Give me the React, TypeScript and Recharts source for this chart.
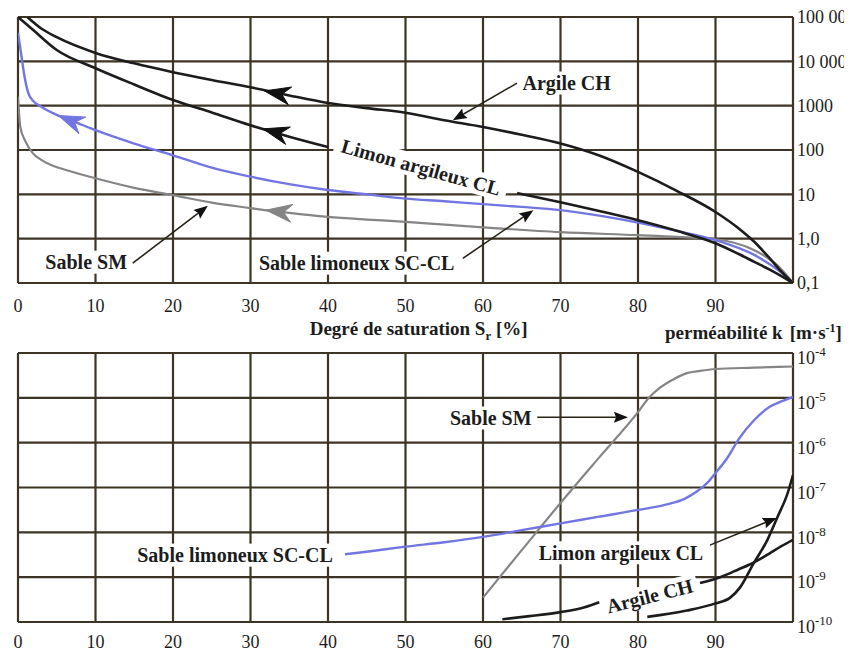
import React from 'react';
import { LineChart, Line, XAxis, YAxis, CartesianGrid, ReferenceLine, ReferenceDot } from 'recharts';

const FONT = 'Liberation Serif, DejaVu Serif, Tinos, Times New Roman, serif';
const GRID = '#3d3424';
const INK = '#1c1c1c';
const BLUE = '#7276e2';
const GREY = '#858585';
const TICK_FS = 18;
const LABEL_FS = 20;

// ---- axes ----
const satTicks = [0, 10, 20, 30, 40, 50, 60, 70, 80, 90, 100];
const suctionTicks = [0.1, 1, 10, 100, 1000, 10000, 100000];
const suctionLabels = ['0,1', '1,0', '10', '100', '1000', '10 000', '100 000'];
const permTicks = [1e-10, 1e-9, 1e-8, 1e-7, 1e-6, 1e-5, 1e-4];
const permExponents = ['-10', '-9', '-8', '-7', '-6', '-5', '-4'];

// ---- top panel: suction vs degree of saturation ----
const srArgileTop = [1.2, 3, 5, 10, 15, 20, 25, 30, 35, 40, 45, 50, 55, 60, 65, 70, 75, 80, 85, 90, 93, 95, 97, 98.5, 100];
const suArgileTop = [100000, 55000, 35000, 15500, 9000, 5700, 3800, 2600, 1700, 1150, 880, 690, 470, 330, 220, 140, 75, 32, 12, 4, 1.7, 0.85, 0.36, 0.18, 0.1];

const srLimonTop = [0, 2, 5, 10, 15, 20, 25, 30, 35, 40, 50, 64.4, 70, 75, 80, 85, 90, 93, 95, 97, 100];
const suLimonTop = [100000, 50000, 18000, 7000, 3000, 1340, 700, 360, 200, 117, null, 10.7, 6.6, 4.2, 2.6, 1.5, 0.79, 0.45, 0.3, 0.2, 0.1];

const srScclTop = [0, 0.4, 0.8, 1.3, 2, 3, 5, 7.5, 10, 15, 20, 25, 30, 35, 40, 45, 50, 55, 60, 65, 70, 75, 80, 85, 90, 95, 98, 100];
const suScclTop = [44000, 15000, 5000, 2000, 1250, 950, 620, 420, 280, 140, 76, 40, 25, 17, 12.5, 10, 8, 7, 6, 5.2, 4.4, 3.3, 2.3, 1.5, 0.93, 0.43, 0.2, 0.1];

const srSmTop = [0, 0.3, 0.9, 1.9, 3, 4.5, 6.3, 10, 15, 20, 25, 30, 35, 40, 45, 50, 60, 70, 80, 85, 90, 95, 98, 100];
const suSmTop = [1600, 330, 165, 85, 60, 44, 35, 23, 14, 9.6, 6.5, 4.9, 3.8, 3.1, 2.7, 2.4, 1.8, 1.4, 1.2, 1.1, 0.97, 0.55, 0.25, 0.1];

// ---- bottom panel: permeability vs degree of saturation ----
const srSmBot = [60, 65, 70, 75, 80, 81.4, 82.8, 84.6, 86.3, 88, 90, 95, 100];
const kSmBot = [3.5e-10, 4e-9, 4.5e-8, 4.7e-7, 4.8e-6, 1e-5, 1.66e-5, 2.6e-5, 3.55e-5, 4e-5, 4.4e-5, 4.7e-5, 5e-5];

const srScclBot = [42.2, 45, 50, 55, 60, 65, 70, 75, 80, 84, 86, 87.5, 89, 90, 91.5, 93, 95, 97, 98.5, 100];
const kScclBot = [3.24e-9, 3.7e-9, 4.8e-9, 6e-9, 7.9e-9, 1.12e-8, 1.58e-8, 2.24e-8, 3.16e-8, 4.3e-8, 5.6e-8, 7.9e-8, 1.3e-7, 2.1e-7, 4.5e-7, 1.2e-6, 3.2e-6, 6.3e-6, 8.3e-6, 1.05e-5];

const srLimonBot = [81.2, 86.3, 90, 91.9, 93.2, 94.9, 96.7, 98, 99.3, 100];
const kLimonBot = [1.3e-10, 1.8e-10, 2.6e-10, 3.5e-10, 6e-10, 2e-9, 6.8e-9, 2.2e-8, 7.4e-8, 1.9e-7];

const srArgileBot = [62.5, 66, 70, 73, 75, 80, 88, 90.6, 93, 94.9, 97, 98.5, 100];
const kArgileBot = [1.15e-10, 1.35e-10, 1.66e-10, 2.1e-10, 2.75e-10, null, 7.4e-10, 1e-9, 1.5e-9, 2.1e-9, 3.4e-9, 4.9e-9, 6.8e-9];

const pts = (xs: number[], ys: (number | null)[]) => xs.map((x, i) => ({ x, y: ys[i] }));

// ---- drawing helpers ----
function headPath(x1: number, y1: number, x2: number, y2: number, len: number, half: number, notch: number) {
  const dx = x2 - x1;
  const dy = y2 - y1;
  const d = Math.hypot(dx, dy) || 1;
  const ux = dx / d;
  const uy = dy / d;
  const px = -uy;
  const py = ux;
  const bx = x2 - ux * len;
  const by = y2 - uy * len;
  const nx = x2 - ux * len * notch;
  const ny = y2 - uy * len * notch;
  return `M${x2},${y2} L${bx + px * half},${by + py * half} L${nx},${ny} L${bx - px * half},${by - py * half} Z`;
}

const curveHead = (color: string) => (p: any) => (
  <path d={headPath(p.x1, p.y1, p.x2, p.y2, 26, 9, 0.68)} fill={color} stroke={color} strokeWidth={1} />
);

const pointer = (p: any) => {
  const dx = p.x2 - p.x1;
  const dy = p.y2 - p.y1;
  const d = Math.hypot(dx, dy) || 1;
  const ex = p.x2 - (dx / d) * 8;
  const ey = p.y2 - (dy / d) * 8;
  return (
    <g>
      <line x1={p.x1} y1={p.y1} x2={ex} y2={ey} stroke="#2a2418" strokeWidth={1.6} />
      <path d={headPath(p.x1, p.y1, p.x2, p.y2, 14, 5.5, 0.85)} fill="#111" />
    </g>
  );
};

const tag = (text: string, angle = 0) => (p: any) => {
  const w = text.length * LABEL_FS * 0.5;
  const h = 23;
  return (
    <g transform={`rotate(${angle} ${p.cx} ${p.cy})`}>
      <rect x={p.cx - w / 2 - 4} y={p.cy - h / 2} width={w + 8} height={h} fill="#ffffff" />
      <text x={p.cx} y={p.cy} dy="0.35em" textAnchor="middle" style={{ fontFamily: FONT }} fontWeight="bold" fontSize={LABEL_FS} fill={INK}>
        {text}
      </text>
    </g>
  );
};

const xTitle = (p: any) => (
  <text x={p.cx} y={p.cy + 52} textAnchor="middle" style={{ fontFamily: FONT }} fontWeight="bold" fontSize={19} fill={INK}>
    Degré de saturation S
    <tspan dy={5} fontSize={13}>r</tspan>
    <tspan dy={-5}> [%]</tspan>
  </text>
);

const kTitle = (p: any) => (
  <text x={p.cx - 128} y={p.cy - 14} textAnchor="start" style={{ fontFamily: FONT }} fontWeight="bold" fontSize={19} fill={INK}>
    perméabilité k
    <tspan dx={7}>[m·s</tspan>
    <tspan dy={-7} fontSize={12}>-1</tspan>
    <tspan dy={7}>]</tspan>
  </text>
);

const XTick = (p: any) => {
  const v = p.payload.value;
  if (v === 100) return <g />;
  return (
    <text x={p.x} y={p.y} dy="0.35em" textAnchor="middle" style={{ fontFamily: FONT }} fontSize={TICK_FS} fill={INK}>
      {v}
    </text>
  );
};

const SuctionTick = (p: any) => {
  const i = suctionTicks.indexOf(p.payload.value);
  return (
    <text x={p.x} y={p.y} dy="0.35em" textAnchor="start" style={{ fontFamily: FONT }} fontSize={TICK_FS} fill={INK}>
      {i >= 0 ? suctionLabels[i] : ''}
    </text>
  );
};

const PermTick = (p: any) => {
  const i = permTicks.findIndex((t) => Math.abs(Math.log10(t) - Math.log10(p.payload.value)) < 1e-6);
  return (
    <text x={p.x} y={p.y + 5} dy="0.35em" textAnchor="start" style={{ fontFamily: FONT }} fontSize={TICK_FS} fill={INK}>
      10
      <tspan dy={-8} fontSize={13}>{i >= 0 ? permExponents[i] : ''}</tspan>
    </text>
  );
};

const W = 844;

export default function App() {
  return (
    <div style={{ width: W, height: 645, position: 'relative', background: '#fff', fontFamily: FONT }}>
      <div style={{ position: 'absolute', left: 0, top: 0 }}>
        <LineChart width={W} height={345} margin={{ top: 9, right: 0, bottom: 15, left: 10 }}>
          <CartesianGrid stroke={GRID} strokeWidth={2.2} />
          <XAxis
            dataKey="x"
            type="number"
            domain={[0, 100]}
            ticks={satTicks}
            interval={0}
            height={55}
            tickSize={0}
            tickMargin={23}
            axisLine={false}
            tickLine={false}
            tick={XTick}
            allowDataOverflow
          />
          <YAxis
            orientation="right"
            scale="log"
            type="number"
            domain={[0.1, 100000]}
            ticks={suctionTicks}
            interval={0}
            width={59}
            tickSize={0}
            tickMargin={4}
            axisLine={false}
            tickLine={false}
            tick={SuctionTick}
            allowDataOverflow
          />
          <Line data={pts(srSmTop, suSmTop)} dataKey="y" type="monotone" stroke={GREY} strokeWidth={2.2} dot={false} activeDot={false} isAnimationActive={false} />
          <Line data={pts(srScclTop, suScclTop)} dataKey="y" type="monotone" stroke={BLUE} strokeWidth={2.4} dot={false} activeDot={false} isAnimationActive={false} />
          <Line data={pts(srLimonTop, suLimonTop)} dataKey="y" type="monotone" stroke={INK} strokeWidth={2.6} dot={false} activeDot={false} isAnimationActive={false} />
          <Line data={pts(srArgileTop, suArgileTop)} dataKey="y" type="monotone" stroke={INK} strokeWidth={2.6} dot={false} activeDot={false} isAnimationActive={false} />

          <ReferenceLine segment={[{ x: 36, y: 1550 }, { x: 31.8, y: 2150 }]} ifOverflow="visible" shape={curveHead('#111')} />
          <ReferenceLine segment={[{ x: 36, y: 185 }, { x: 31.6, y: 300 }]} ifOverflow="visible" shape={curveHead('#111')} />
          <ReferenceLine segment={[{ x: 9, y: 320 }, { x: 5.2, y: 600 }]} ifOverflow="visible" shape={curveHead(BLUE)} />
          <ReferenceLine segment={[{ x: 36, y: 3.6 }, { x: 32, y: 4.4 }]} ifOverflow="visible" shape={curveHead(GREY)} />

          <ReferenceLine segment={[{ x: 14.8, y: 0.28 }, { x: 24.5, y: 5.5 }]} ifOverflow="visible" shape={pointer} />
          <ReferenceLine segment={[{ x: 57.4, y: 0.36 }, { x: 66.5, y: 4.4 }]} ifOverflow="visible" shape={pointer} />
          <ReferenceLine segment={[{ x: 64.4, y: 3230 }, { x: 56.1, y: 470 }]} ifOverflow="visible" shape={pointer} />

          <ReferenceDot x={70.8} y={3240} ifOverflow="visible" shape={tag('Argile CH')} />
          <ReferenceDot x={52} y={41} ifOverflow="visible" shape={tag('Limon argileux CL', 15.5)} />
          <ReferenceDot x={8.8} y={0.295} ifOverflow="visible" shape={tag('Sable SM')} />
          <ReferenceDot x={43.7} y={0.28} ifOverflow="visible" shape={tag('Sable limoneux SC-CL')} />
          <ReferenceDot x={51.7} y={0.1} ifOverflow="visible" shape={xTitle} />
        </LineChart>
      </div>

      <div style={{ position: 'absolute', left: 0, top: 302 }}>
        <LineChart width={W} height={343} margin={{ top: 43, right: 0, bottom: 0, left: 10 }}>
          <CartesianGrid stroke={GRID} strokeWidth={2.2} />
          <XAxis
            dataKey="x"
            type="number"
            domain={[0, 100]}
            ticks={satTicks}
            interval={0}
            height={31}
            tickSize={0}
            tickMargin={20}
            axisLine={false}
            tickLine={false}
            tick={XTick}
            allowDataOverflow
          />
          <YAxis
            orientation="right"
            scale="log"
            type="number"
            domain={[1e-10, 1e-4]}
            ticks={permTicks}
            interval={0}
            width={59}
            tickSize={0}
            tickMargin={4}
            axisLine={false}
            tickLine={false}
            tick={PermTick}
            allowDataOverflow
          />
          <Line data={pts(srSmBot, kSmBot)} dataKey="y" type="monotone" stroke={GREY} strokeWidth={2.2} dot={false} activeDot={false} isAnimationActive={false} />
          <Line data={pts(srScclBot, kScclBot)} dataKey="y" type="monotone" stroke={BLUE} strokeWidth={2.4} dot={false} activeDot={false} isAnimationActive={false} />
          <Line data={pts(srLimonBot, kLimonBot)} dataKey="y" type="monotone" stroke={INK} strokeWidth={2.6} dot={false} activeDot={false} isAnimationActive={false} />
          <Line data={pts(srArgileBot, kArgileBot)} dataKey="y" type="monotone" stroke={INK} strokeWidth={2.6} dot={false} activeDot={false} isAnimationActive={false} />

          <ReferenceLine segment={[{ x: 67, y: 3.7e-6 }, { x: 78.7, y: 3.7e-6 }]} ifOverflow="visible" shape={pointer} />
          <ReferenceLine segment={[{ x: 88.4, y: 4.5e-9 }, { x: 97.9, y: 2.1e-8 }]} ifOverflow="visible" shape={pointer} />

          <ReferenceDot x={61} y={3.55e-6} ifOverflow="visible" shape={tag('Sable SM')} />
          <ReferenceDot x={28} y={3.1e-9} ifOverflow="visible" shape={tag('Sable limoneux SC-CL')} />
          <ReferenceDot x={77.8} y={3.5e-9} ifOverflow="visible" shape={tag('Limon argileux CL')} />
          <ReferenceDot x={81.5} y={3.8e-10} ifOverflow="visible" shape={tag('Argile CH', -14)} />
          <ReferenceDot x={100} y={1e-4} ifOverflow="visible" shape={kTitle} />
        </LineChart>
      </div>
    </div>
  );
}
